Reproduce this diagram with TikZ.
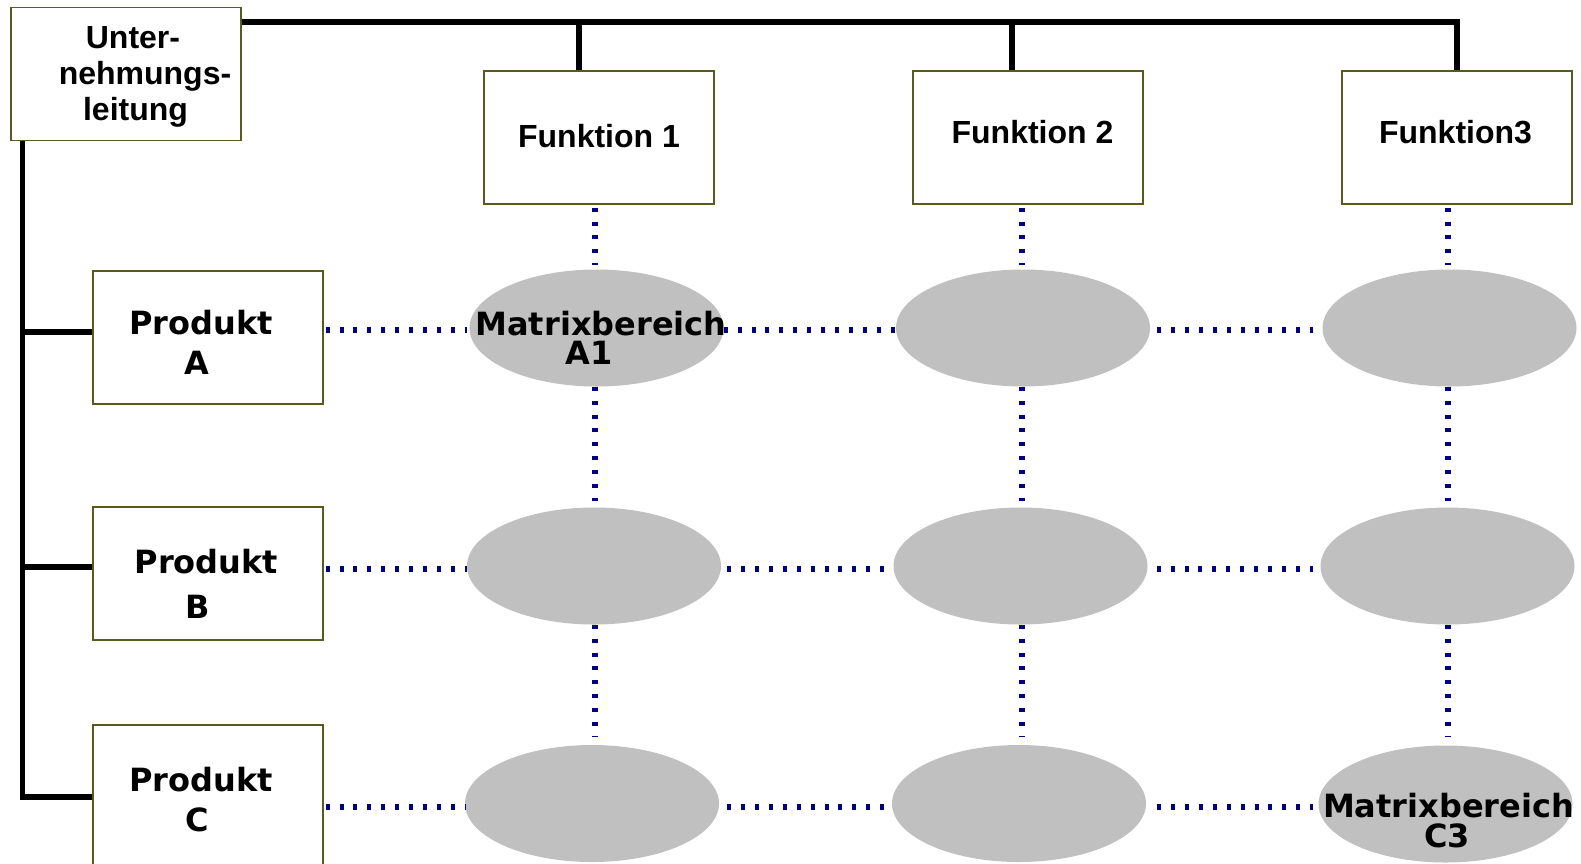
\documentclass[tikz,border=0pt]{standalone}
\usepackage{fontspec}
\usetikzlibrary{shapes.geometric,calc}
\newfontfamily\arialf{Liberation Sans}
\newfontfamily\dejaf{DejaVu Sans}
\definecolor{boxc}{RGB}{90,90,30}
\definecolor{dotc}{RGB}{0,0,128}
\definecolor{ellc}{RGB}{192,192,192}
\tikzset{
  boxnode/.style={rectangle,draw=boxc,line width=1.3pt,fill=white,inner sep=0pt,minimum width=230pt,minimum height=133pt},
  ellnode/.style={ellipse,fill=ellc,draw=none,inner sep=0pt,minimum width=254pt,minimum height=117pt},
  trunk/.style={line width=5.6pt,black},
  dotline/.style={line width=5.6pt,dotc,dash pattern=on 4pt off 9.9pt},
  atxt/.style={anchor=base,inner sep=0pt,font=\arialf\bfseries\fontsize{32}{36}\selectfont},
  dtxt/.style={anchor=base,inner sep=0pt,font=\dejaf\bfseries\fontsize{32}{36}\selectfont}
}
\begin{document}
\begin{tikzpicture}[x=1pt,y=-1pt]
\useasboundingbox (0,0) rectangle (1581,863);
\clip (0,0) rectangle (1581,863);
% boxes
\node[boxnode] (u) at (126,74) {};
\node[boxnode] (f1) at (599,137.5) {};
\node[boxnode] (f2) at (1028,137.5) {};
\node[boxnode] (f3) at (1457,137.5) {};
\node[boxnode] (pa) at (208,337.5) {};
\node[boxnode] (pb) at (208,573.5) {};
\node[boxnode,minimum height=150pt] (pc) at (208,800) {};
% ellipses
\node[ellnode] (e11) at (596.5,328) {};
\node[ellnode] (e12) at (1023,328) {};
\node[ellnode] (e13) at (1449.5,328) {};
\node[ellnode] (e21) at (594,566) {};
\node[ellnode] (e22) at (1020.5,566) {};
\node[ellnode] (e23) at (1447.5,566) {};
\node[ellnode] (e31) at (592,803.5) {};
\node[ellnode] (e32) at (1019,803.5) {};
\node[ellnode] (e33) at (1445.5,804) {};
% reference coordinates
\coordinate (topy) at (0,22);
\coordinate (lx) at (23,0);
\coordinate (ra) at (0,330);
\coordinate (rb) at (0,569);
\coordinate (rc) at (0,807);
\coordinate (c1) at (595,0);
\coordinate (c2) at (1022,0);
\coordinate (c3) at (1448,0);
% solid hierarchy lines
\draw[trunk] (u.east |- topy) -| (f3.north);
\draw[trunk] ([xshift=-20pt]f1.north) -- ([xshift=-20pt]f1.north |- topy);
\draw[trunk] ([xshift=-16pt]f2.north) -- ([xshift=-16pt]f2.north |- topy);
\draw[trunk] ([xshift=12pt]u.south west) |- ([yshift=3pt]pc.west);
\draw[trunk] ([yshift=5.5pt]pa.west -| lx) -- ([yshift=5.5pt]pa.west);
\draw[trunk] ([yshift=6.5pt]pb.west -| lx) -- ([yshift=6.5pt]pb.west);
% dotted matrix lines, horizontal
\draw[dotline,shorten <=2pt,shorten >=2pt] (pa.east |- ra) -- (e11.west |- ra);
\draw[dotline] (e11.east |- ra) -- (e12.west |- ra);
\draw[dotline,shorten <=7pt,shorten >=9pt] (e12.east |- ra) -- (e13.west |- ra);
\draw[dotline,shorten <=2pt] (pb.east |- rb) -- (e21.west |- rb);
\draw[dotline,shorten <=6pt] (e21.east |- rb) -- (e22.west |- rb);
\draw[dotline,shorten <=9pt,shorten >=7pt] (e22.east |- rb) -- (e23.west |- rb);
\draw[dotline,shorten <=2pt] (pc.east |- rc) -- (e31.west |- rc);
\draw[dotline,shorten <=8pt,shorten >=8pt] (e31.east |- rc) -- (e32.west |- rc);
\draw[dotline,shorten <=11pt,shorten >=5pt] (e32.east |- rc) -- (e33.west |- rc);
% dotted matrix lines, vertical
\draw[dotline,shorten <=3pt,shorten >=4pt] (f1.south -| c1) -- (e11.north -| c1);
\draw[dotline,shorten >=6pt] (e11.south -| c1) -- (e21.north -| c1);
\draw[dotline,shorten >=8pt] (e21.south -| c1) -- (e31.north -| c1);
\draw[dotline,shorten <=3pt,shorten >=4pt] (f2.south -| c2) -- (e12.north -| c2);
\draw[dotline,shorten >=6pt] (e12.south -| c2) -- (e22.north -| c2);
\draw[dotline,shorten >=8pt] (e22.south -| c2) -- (e32.north -| c2);
\draw[dotline,shorten <=3pt,shorten >=4pt] (f3.south -| c3) -- (e13.north -| c3);
\draw[dotline,shorten >=6pt] (e13.south -| c3) -- (e23.north -| c3);
\draw[dotline,shorten >=8pt] (e23.south -| c3) -- (e33.north -| c3);
% texts
\node[atxt] (u1) at (133,48) {Unter-};
\node[atxt] (u2) at (145,84) {nehmungs-};
\node[atxt] (u3) at (135.5,120) {leitung};
\node[atxt] (tf1) at (599,147) {Funktion 1};
\node[atxt] (tf2) at (1032.5,143) {Funktion 2};
\node[atxt] (tf3) at (1455.5,143) {Funktion3};
\node[dtxt] (pa1) at (201,334) {Produkt};
\node[dtxt] (pa2) at (197,374) {A};
\node[dtxt] (pb1) at (206.5,573) {Produkt};
\node[dtxt] (pb2) at (198,618) {B};
\node[dtxt] (pc1) at (201,791) {Produkt};
\node[dtxt] (pc2) at (197,831) {C};
\node[dtxt] (m11) at (601,335) {Matrixbereich};
\node[dtxt] (m12) at (589,364) {A1};
\node[dtxt] (m31) at (1448.5,817) {Matrixbereich};
\node[dtxt] (m32) at (1447,847) {C3};
\end{tikzpicture}
\end{document}
